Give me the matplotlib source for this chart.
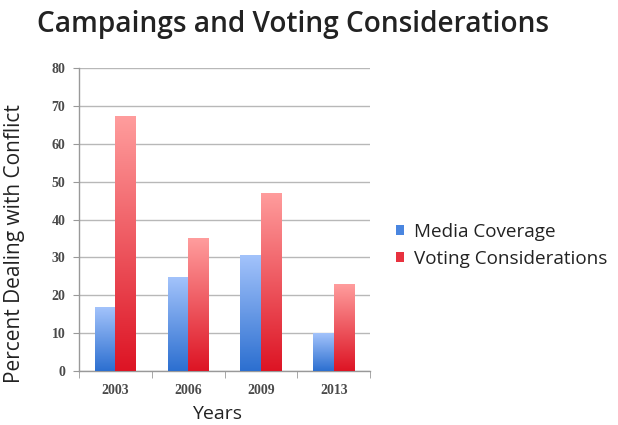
import matplotlib
matplotlib.use("Agg")
import matplotlib.pyplot as plt
from matplotlib.colors import LinearSegmentedColormap
from matplotlib.patches import Patch
import numpy as np

# data
years = ['2003', '2006', '2009', '2013']
media = [16.8, 24.7, 30.5, 10.0]
voting = [67.2, 35.1, 47.1, 22.9]
series_names = ['Media Coverage', 'Voting Considerations']


def gradient_bars(ax, bars, top_color, bottom_color):
    """fill every bar with a vertical gradient (light top, dark bottom)"""
    cmap = LinearSegmentedColormap.from_list('g', [bottom_color, top_color])
    grad = np.linspace(0, 1, 256).reshape(-1, 1)
    for b in bars:
        x0, y0 = b.get_x(), b.get_y()
        w, h = b.get_width(), b.get_height()
        b.set_facecolor('none')
        b.set_edgecolor('none')
        im = ax.imshow(grad, cmap=cmap, origin='lower', aspect='auto',
                       extent=[x0, x0 + w, y0, y0 + h], zorder=3)
        im.set_clip_path(b)


fig = plt.figure(figsize=(6.18, 4.25), dpi=100)
ax = fig.add_axes([0.128, 0.127, 0.471, 0.713])

x = np.arange(len(years))
w = 0.285
b1 = ax.bar(x - w / 2, media, w, zorder=3)
b2 = ax.bar(x + w / 2, voting, w, zorder=3)
gradient_bars(ax, b1, '#a3c3fb', '#2c6fd0')
gradient_bars(ax, b2, '#ff9d9d', '#dd1424')

ax.set_xlim(-0.5, len(years) - 0.5)
ax.set_ylim(0, 80)
ax.set_yticks(range(0, 81, 10))
ax.yaxis.grid(True, color='#b8b8b8', linewidth=1.0, zorder=0)
ax.set_axisbelow(True)

ax.set_xticks(x)
ax.set_xticklabels(years)
ax.set_xticks(np.arange(-0.5, len(years), 1.0), minor=True)
ax.tick_params(axis='x', which='major', length=0, pad=9)
ax.tick_params(axis='x', which='minor', length=5, color='#999999', direction='out')
ax.tick_params(axis='y', length=4, color='#999999', pad=6)
for lbl in ax.get_xticklabels() + ax.get_yticklabels():
    lbl.set_fontfamily('Liberation Serif')
    lbl.set_fontweight('bold')
    lbl.set_fontsize(10)
    lbl.set_color('#4a4a4a')

for s in ['top', 'right']:
    ax.spines[s].set_visible(False)
for s in ['left', 'bottom']:
    ax.spines[s].set_color('#999999')
    ax.spines[s].set_linewidth(1.0)

ax.set_xlabel('Years', fontfamily='Open Sans', fontsize=14, color='#222222')
ax.xaxis.set_label_coords(0.475, -0.112)
ax.set_ylabel('Percent Dealing with Conflict', fontfamily='Open Sans', fontsize=15,
              color='#222222')
ax.yaxis.set_label_coords(-0.186, 0.42)
fig.text(0.06, 0.942, 'Campaings and Voting Considerations', fontfamily='Open Sans',
         fontweight='semibold', fontsize=20.2, color='#222222', va='center', ha='left')

handles = [Patch(facecolor='#4a86e0', edgecolor='none'),
           Patch(facecolor='#e8323f', edgecolor='none')]
fig.legend(handles, series_names, loc='center left', bbox_to_anchor=(0.641, 0.423),
           frameon=False, handlelength=0.4, handleheight=0.4, handletextpad=0.55,
           labelspacing=0.5, prop={'family': 'Open Sans', 'size': 13.6},
           labelcolor='#222222', borderaxespad=0, borderpad=0)

fig.savefig('out.png', dpi=100)
